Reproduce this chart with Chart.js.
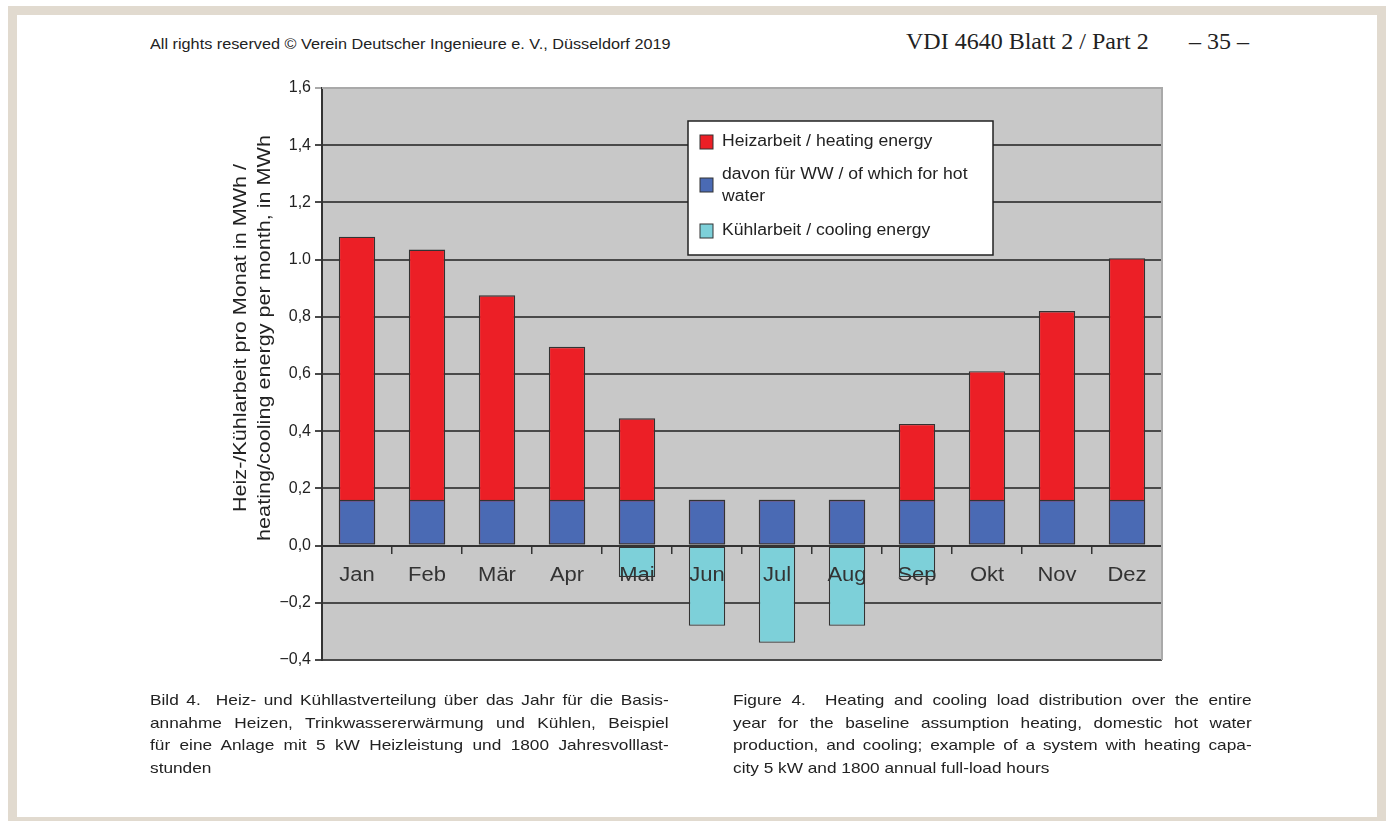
<!DOCTYPE html>
<html>
<head>
<meta charset="utf-8">
<script src="https://cdn.jsdelivr.net/npm/chart.js@4.4.1/dist/chart.umd.min.js"></script>
<style>
  html, body { margin: 0; padding: 0; background: #fff; }
  body { width: 1389px; height: 821px; position: relative; overflow: hidden; font-family: "Liberation Sans", Arial, sans-serif; }
  .frame { position: absolute; left: 8px; top: 6px; width: 1360px; height: 802px; border: 9px solid #e1dacf; }
  .wrap { position: absolute; left: 0; top: 0; width: 1389px; height: 821px; }
  .head-l { position: absolute; left: 150px; top: 36px; font-size: 14px; color: #222; transform: scaleX(1.16); transform-origin: left top; white-space: nowrap; }
  .serif { position: absolute; top: 28px; font-family: "Liberation Serif", "Times New Roman", serif; font-size: 24px; color: #222; white-space: nowrap; }
  .cap { position: absolute; top: 689px; width: 451px; font-size: 15px; line-height: 22.7px; color: #222; transform: scaleX(1.15); transform-origin: left top; }
  .cap div { text-align: justify; text-align-last: justify; white-space: nowrap; }
  .cap div.last { text-align-last: left; }
</style>
</head>
<body>
<div class="frame"></div>
<div class="head-l">All rights reserved © Verein Deutscher Ingenieure e. V., Düsseldorf 2019</div>
<div class="serif" style="left:906px">VDI 4640 Blatt 2 / Part 2</div>
<div class="serif" style="left:1189px">– 35 –</div>
<div class="wrap"><canvas id="chart" width="1389" height="821"></canvas></div>
<div class="cap" style="left:150px">
  <div>Bild 4.&nbsp; Heiz- und Kühllastverteilung über das Jahr für die Basis-</div>
  <div>annahme Heizen, Trinkwassererwärmung und Kühlen, Beispiel</div>
  <div>für eine Anlage mit 5 kW Heizleistung und 1800 Jahresvolllast-</div>
  <div class="last">stunden</div>
</div>
<div class="cap" style="left:733px">
  <div>Figure 4.&nbsp; Heating and cooling load distribution over the entire</div>
  <div>year for the baseline assumption heating, domestic hot water</div>
  <div>production, and cooling; example of a system with heating capa-</div>
  <div class="last">city 5 kW and 1800 annual full-load hours</div>
</div>
<script>
const months = ['Jan', 'Feb', 'Mär', 'Apr', 'Mai', 'Jun', 'Jul', 'Aug', 'Sep', 'Okt', 'Nov', 'Dez']
const heating = [1.08, 1.035, 0.875, 0.695, 0.445, 0.16, 0.16, 0.16, 0.425, 0.61, 0.82, 1.005]
const hotWater = [0.16, 0.16, 0.16, 0.16, 0.16, 0.16, 0.16, 0.16, 0.16, 0.16, 0.16, 0.16]
const cooling = [0, 0, 0, 0, -0.11, -0.28, -0.34, -0.28, -0.11, 0, 0, 0]
const yTickLabels = ['−0,4', '−0,2', '0,0', '0,2', '0,4', '0,6', '0,8', '1.0', '1,2', '1,4', '1,6']
const seriesNames = ['Heizarbeit / heating energy', ['davon für WW / of which for hot', 'water'], 'Kühlarbeit / cooling energy']
const axisTitle = ['Heiz-/Kühlarbeit pro Monat in MWh /', 'heating/cooling energy per month, in MWh']

const RED = '#ec1f26', BLUE = '#4a6ab4', CYAN = '#7dd0d9'
const FONT = '"Liberation Sans", Arial, sans-serif'

// text squeezed/stretched along its baseline
function wideText(ctx, text, x, y, sx, align) {
  ctx.save()
  ctx.translate(x, y)
  ctx.scale(sx, 1)
  ctx.textAlign = align || 'left'
  ctx.fillText(text, 0, 0)
  ctx.restore()
}

// gray plot background + light frame on top/right
const plotBg = {
  id: 'plotBg',
  beforeDraw(chart) {
    const { ctx, chartArea: a } = chart
    ctx.save()
    ctx.fillStyle = '#c8c8c8'
    ctx.fillRect(a.left, a.top, a.right - a.left, a.bottom - a.top)
    ctx.restore()
  },
  afterDraw(chart) {
    const { ctx, chartArea: a } = chart
    ctx.save()
    ctx.strokeStyle = '#a9a9a9'
    ctx.lineWidth = 2
    ctx.beginPath()
    ctx.moveTo(a.left, a.top)
    ctx.lineTo(a.right, a.top)
    ctx.lineTo(a.right, a.bottom)
    ctx.stroke()
    ctx.restore()
  }
}

// month names sit just under the zero line, on top of the bars
const monthLabels = {
  id: 'monthLabels',
  afterDatasetsDraw(chart) {
    const { ctx } = chart
    const x = chart.scales.x, y = chart.scales.y
    const y0 = y.getPixelForValue(0)
    ctx.save()
    ctx.fillStyle = '#333'
    ctx.font = '20px ' + FONT
    ctx.textBaseline = 'middle'
    months.forEach((m, i) => wideText(ctx, m, x.getPixelForValue(i), y0 + 30, 1.1, 'center'))
    ctx.restore()
  }
}

// boxed legend inside the plot and the rotated two-line axis title
const extras = {
  id: 'extras',
  afterDraw(chart) {
    const { ctx } = chart
    ctx.save()
    ctx.fillStyle = '#fff'
    ctx.fillRect(688, 121, 305, 134)
    ctx.strokeStyle = '#222'
    ctx.lineWidth = 1.5
    ctx.strokeRect(688, 121, 305, 134)

    const colors = [RED, BLUE, CYAN]
    const rows = [142, 185, 231]
    ctx.font = '16px ' + FONT
    ctx.textBaseline = 'middle'
    seriesNames.forEach((name, i) => {
      ctx.fillStyle = colors[i]
      ctx.fillRect(700, rows[i] - 7, 13, 14)
      ctx.strokeStyle = '#333'
      ctx.lineWidth = 1
      ctx.strokeRect(700, rows[i] - 7, 13, 14)
      ctx.fillStyle = '#222'
      if (Array.isArray(name)) {
        wideText(ctx, name[0], 722, rows[i] - 10, 1.1)
        wideText(ctx, name[1], 722, rows[i] + 12, 1.1)
      } else {
        wideText(ctx, name, 722, rows[i], 1.1)
      }
    })

    ctx.font = '18px ' + FONT
    axisTitle.forEach((line, i) => {
      ctx.save()
      ctx.translate(241 + i * 24, 338)
      ctx.rotate(-Math.PI / 2)
      wideText(ctx, line, 0, 0, 1.2, 'center')
      ctx.restore()
    })
    ctx.restore()
  }
}

const barStyle = { borderColor: '#333', borderWidth: 1.3, borderSkipped: false, grouped: false, categoryPercentage: 1, barPercentage: 0.52 }

new Chart(document.getElementById('chart'), {
  type: 'bar',
  data: {
    labels: months,
    datasets: [
      { label: 'Heizarbeit / heating energy', data: heating, backgroundColor: RED, order: 3, ...barStyle },
      { label: 'davon für WW / of which for hot water', data: hotWater, backgroundColor: BLUE, order: 2, ...barStyle },
      { label: 'Kühlarbeit / cooling energy', data: cooling, backgroundColor: CYAN, order: 1, ...barStyle }
    ]
  },
  options: {
    responsive: false,
    animation: false,
    layout: { padding: { left: 229, top: 88, right: 227, bottom: 161 } },
    plugins: { legend: { display: false }, tooltip: { enabled: false } },
    scales: {
      x: {
        position: { y: 0 },
        grid: { drawOnChartArea: false, drawTicks: true, tickLength: 7, color: '#333', lineWidth: 1.5, offset: true, z: 1 },
        border: { display: true, color: '#333', width: 2, z: 1 },
        ticks: { display: false }
      },
      y: {
        min: -0.4,
        max: 1.6,
        afterFit(scale) { scale.width = 93 },
        grid: {
          color: ctx => (ctx.tick && ctx.tick.value > 1.55 ? '#a9a9a9' : '#4a4a4a'),
          lineWidth: 2,
          tickLength: 7
        },
        border: { display: true, color: '#333', width: 2 },
        ticks: {
          stepSize: 0.2,
          padding: 4,
          color: '#222',
          font: { family: FONT, size: 16 },
          callback: (v, i) => yTickLabels[i]
        }
      }
    }
  },
  plugins: [plotBg, monthLabels, extras]
})
</script>
</body>
</html>
